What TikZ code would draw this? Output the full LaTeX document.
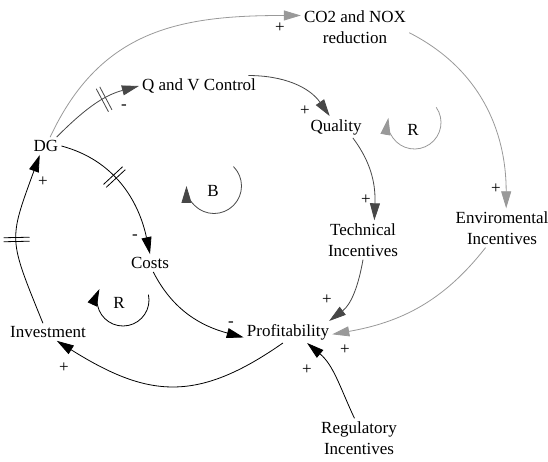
\documentclass[tikz,border=0pt]{standalone}
\usepackage{fontspec}
\setmainfont{Liberation Serif}
\newfontfamily\cldfont{Liberation Serif}
\usetikzlibrary{arrows.meta, decorations.markings}

\definecolor{lightlink}{HTML}{999999}
\definecolor{darklink}{HTML}{474747}

\tikzset{
    var/.style={inner sep=3pt, align=center},
    sign/.style={inner sep=0pt},
    loopname/.style={inner sep=0pt},
    link/.style={line width=0.8pt, -{Triangle[length=17pt, width=10pt]}},
    delay/.style={postaction={decorate, decoration={markings,
        mark=at position #1 with {\draw[-, line width=0.8pt] (-2pt,-13pt) -- (-2pt,13pt) (2pt,-13pt) -- (2pt,13pt);}}}}
}

\begin{document}
\begin{tikzpicture}[x=1pt, y=1pt, every node/.style={font=\cldfont\fontsize{17}{21}\selectfont}]
    \useasboundingbox (0,0) rectangle (548,461);
    % Variables
    \node[var] (co2) at (355,434) {CO2 and NOX\\reduction};
    \node[var] (qv) at (199,375) {Q and V Control};
    \node[var] (dg) at (46,315) {DG};
    \node[var] (quality) at (336,334) {Quality};
    \node[var] (tech) at (363,221) {Technical\\Incentives};
    \node[var] (env) at (502,233) {Enviromental\\Incentives};
    \node[var] (costs) at (150,198) {Costs};
    \node[var] (inv) at (48,129) {Investment};
    \node[var] (prof) at (288,129) {Profitability};
    \node[var] (reg) at (359,23) {Regulatory\\Incentives};

    % Links, light grey
    \draw[link, lightlink] (dg.65) to[out=65, in=180, looseness=1.1] (co2.168);
    \draw[link, lightlink] (co2.-6) to[out=-27, in=90] (env.78);
    \draw[link, lightlink] (env.-130) to[out=-128, in=10] (prof.-3);
    % Links, dark grey
    \draw[link, darklink, delay=0.62] (dg.40) to[out=45, in=195] (qv.west);
    \draw[link, darklink] (qv.12) to[out=0, in=125] (quality.120);
    \draw[link, darklink] (quality.-33) to[out=-53, in=88] (tech.60);
    \draw[link, darklink] (tech.south) to[out=-100, in=37] (prof.15);
    % Links, black
    \draw[link, delay=0.42] (dg.east) to[out=-15, in=102] (costs.north);
    \draw[link] (costs.-70) to[out=-63, in=165] (prof.187);
    \draw[link] (reg.103) to[out=115, in=-40] (prof.-30);
    \draw[link] (prof.-115) to[out=-145, in=-32, looseness=1.2] (inv.-45);
    \draw[link, delay=0.5] (inv.120) to[out=112, in=-110, looseness=1.4] (dg.-125);

    % Polarities
    \foreach \x/\y/\s [count=\i] in {280/433/+, 124/354/-, 305/350/+, 366/261/+,
        496/272/+, 327/161/+, 345/111/+, 307/91/+, 135/224/-, 231/137/-, 64/93/+, 43/279/+}
    {
        \node[sign] (pol\i) at (\x,\y) {\s};
    }

    % Loops
    \node[loopname] (loopr1) at (413,331) {R};
    \node[loopname] (loopb) at (213,270) {B};
    \node[loopname] (loopr2) at (119,158) {R};
    \foreach \cx/\cy/\r/\s/\e/\col in {414.5/338.5/26.5/35/-190/lightlink,
        214/275/27.5/45/-180/darklink, 123/161/26/12/-205/black}
    {
        \draw[link, \col] (\cx,\cy) ++(\s:\r) arc[start angle=\s, end angle=\e, radius=\r];
    }
\end{tikzpicture}
\end{document}
